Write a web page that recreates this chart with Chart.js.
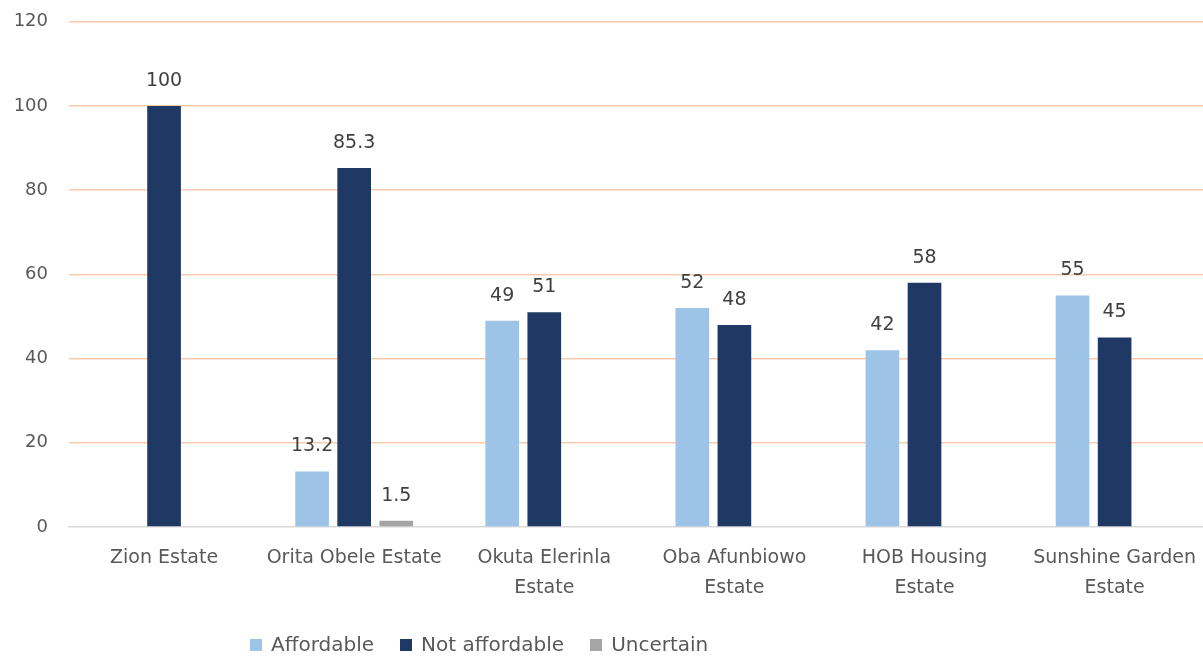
<!DOCTYPE html>
<html>
<head>
<meta charset="utf-8">
<script src="https://cdn.jsdelivr.net/npm/chart.js@4.4.1/dist/chart.umd.min.js"></script>
<style>
    body { margin: 0; background: #fff; overflow: hidden; }
    #wrap { position: relative; width: 1212px; height: 656px; overflow: hidden; }
    #estateChart { position: absolute; left: 0; top: -10px; }
    #legend { position: absolute; left: 250px; top: 632px; font-family: "DejaVu Sans", sans-serif; font-size: 20px; color: #595959; white-space: nowrap; }
    #legend span.item { display: inline-block; margin-right: 26px; }
    #legend span.box { display: inline-block; width: 12px; height: 12px; margin-right: 9px; vertical-align: 0px; }
</style>
</head>
<body>
<div id="wrap">
    <canvas id="estateChart" width="1212" height="666"></canvas>
    <div id="legend"></div>
</div>
<script>
// estates and survey percentages
const estates = [
    'Zion Estate',
    'Orita Obele Estate',
    ['Okuta Elerinla', 'Estate'],
    ['Oba Afunbiowo', 'Estate'],
    ['HOB Housing', 'Estate'],
    ['Sunshine Garden', 'Estate']
];
const affordable = [null, 13.2, 49, 52, 42, 55];
const notAffordable = [100, 85.3, 51, 48, 58, 45];
const uncertain = [null, 1.5, null, null, null, null];
const seriesNames = ['Affordable', 'Not affordable', 'Uncertain'];
const seriesColors = ['#9DC3E6', '#203864', '#A5A5A5'];
const yTicks = [0, 20, 40, 60, 80, 100, 120];

const fontFamily = '"DejaVu Sans", sans-serif';

// value labels above each bar
const valueLabels = {
    id: 'valueLabels',
    afterDatasetsDraw: function(chart) {
        const ctx = chart.ctx;
        ctx.save();
        ctx.font = '19px ' + fontFamily;
        ctx.fillStyle = '#404040';
        ctx.textAlign = 'center';
        ctx.textBaseline = 'middle';
        chart.data.datasets.forEach(function(ds, i) {
            const meta = chart.getDatasetMeta(i);
            meta.data.forEach(function(bar, j) {
                const v = ds.data[j];
                if (v === null) return;
                ctx.fillText(String(v), bar.x, bar.y - 25);
            });
        });
        ctx.restore();
    }
};

const ctx = document.getElementById('estateChart');
const myChart = new Chart(ctx, {
    type: 'bar',
    data: {
        labels: estates,
        datasets: [affordable, notAffordable, uncertain].map(function(d, i) {
            return {
                label: seriesNames[i],
                data: d,
                backgroundColor: seriesColors[i],
                borderWidth: 0,
                categoryPercentage: 0.664,
                barPercentage: 0.8
            };
        })
    },
    options: {
        responsive: false,
        animation: false,
        layout: { padding: { top: 11, right: 0, left: 0, bottom: 0 } },
        scales: {
            x: {
                grid: { display: false, drawTicks: false },
                border: { display: true, color: '#D9D9D9', width: 1.5 },
                ticks: {
                    color: '#595959',
                    padding: 16,
                    maxRotation: 0,
                    autoSkip: false,
                    font: { family: fontFamily, size: 19, lineHeight: 1.58 }
                },
                afterFit: function(scale) { scale.height = 129; }
            },
            y: {
                min: 0,
                max: 120,
                afterBuildTicks: function(scale) {
                    scale.ticks = yTicks.map(function(v) { return { value: v }; });
                },
                grid: {
                    drawTicks: false,
                    lineWidth: 1.5,
                    color: function(c) { return c.tick && c.tick.value === 0 ? 'rgba(0,0,0,0)' : '#F8CBAD'; }
                },
                border: { display: false },
                ticks: {
                    color: '#595959',
                    padding: 21,
                    font: { family: fontFamily, size: 18 }
                },
                afterFit: function(scale) { scale.width = 69; }
            }
        },
        plugins: {
            legend: { display: false },
            tooltip: { enabled: false }
        }
    },
    plugins: [valueLabels]
});

// legend
const legendEl = document.getElementById('legend');
seriesNames.forEach(function(name, i) {
    legendEl.innerHTML += '<span class="item"><span class="box" style="background:' + seriesColors[i] + '"></span>' + name + '</span>';
});
</script>
</body>
</html>
